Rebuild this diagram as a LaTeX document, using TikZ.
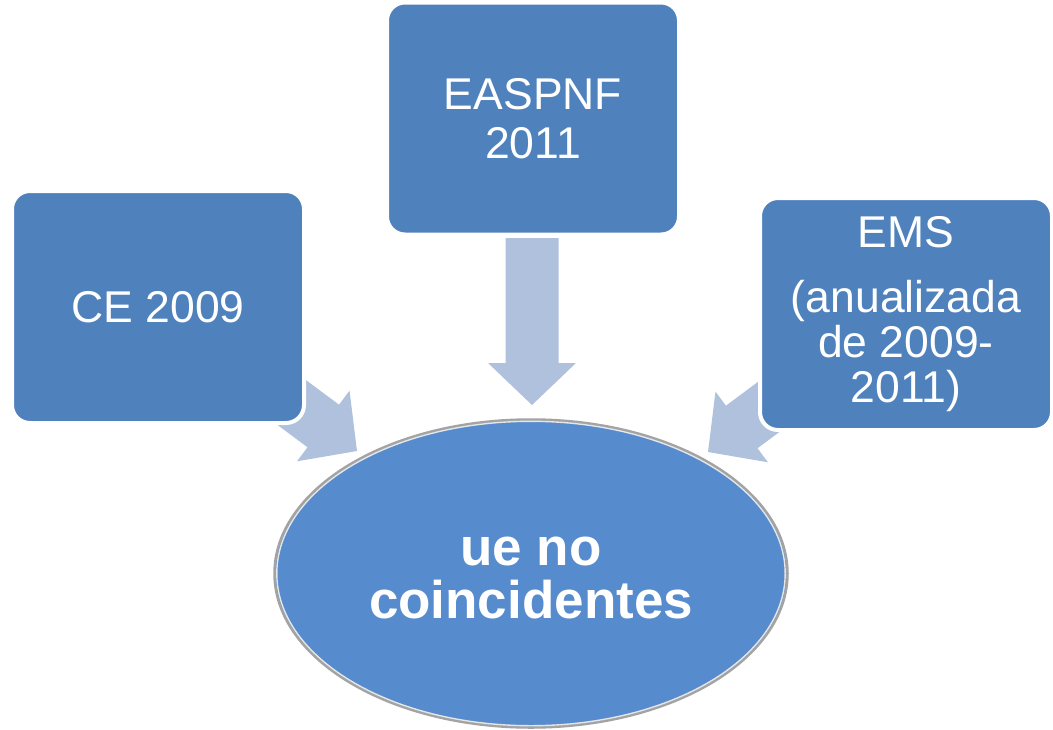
\documentclass[tikz,border=0pt]{standalone}
\usepackage{fontspec}
\setmainfont{Liberation Sans}
\usetikzlibrary{shapes.geometric}
\definecolor{boxblue}{HTML}{4F81BD}
\definecolor{arrowblue}{HTML}{AFC1DD}
\definecolor{ellblue}{HTML}{568BCD}
\definecolor{rimgray}{HTML}{A3A3A3}
\definecolor{rimlight}{HTML}{E6E6E6}
\begin{document}
\begin{tikzpicture}[x=1pt,y=-1pt,
  box/.style={draw=white, line width=4pt, fill=boxblue, rounded corners=18pt,
    minimum width=292pt, minimum height=232pt, text=white, align=center,
    inner sep=0pt, font=\fontsize{44.5}{49}\selectfont},
  bigarrow/.style={fill=arrowblue, draw=none},
  ellnode/.style={ellipse, fill=ellblue, draw=rimgray, line width=2.5pt,
    minimum width=513pt, minimum height=308pt, inner sep=0pt},
  ellrim/.style={draw=rimlight, line width=1.4pt},
  elltext/.style={text=white, align=center, inner sep=0pt,
    font=\fontsize{53}{53}\selectfont\bfseries}]
\useasboundingbox (0,0) rectangle (1053,729);
% arrow tips
\coordinate (tipL) at (357,451);
\coordinate (tipT) at (532,405);
\coordinate (tipR) at (708,452);
\fill[bigarrow, shift={(tipT)}, rotate=-90]
  (0,0) -- (-42,44) -- (-42,26.5) -- (-167,26.5) -- (-167,-26.5) -- (-42,-26.5) -- (-42,-44) -- cycle;
\fill[bigarrow, shift={(tipL)}, rotate=-36.6]
  (0,0) -- (-42,44) -- (-42,26.5) -- (-150,26.5) -- (-150,-26.5) -- (-42,-26.5) -- (-42,-44) -- cycle;
\fill[bigarrow, shift={(tipR)}, rotate=-143.4]
  (0,0) -- (-42,44) -- (-42,26.5) -- (-150,26.5) -- (-150,-26.5) -- (-42,-26.5) -- (-42,-44) -- cycle;
% boxes
\node[box] (ce) at (158,307) {CE 2009};
\node[box] (easpnf) at (533,118.5) {EASPNF\\2011};
\node[box, font=\fontsize{44.5}{45}\selectfont] (ems) at (906,314) {EMS\\[20pt](anualizada\\de 2009-\\2011)};
% ellipse
\node[ellnode] (ell) at (531,573.5) {};
\draw[ellrim] (ell.center) ellipse [x radius=254.2, y radius=152.2];
\node[elltext] (elltxt) at (531,578) {ue no\\coincidentes};
\end{tikzpicture}
\end{document}
